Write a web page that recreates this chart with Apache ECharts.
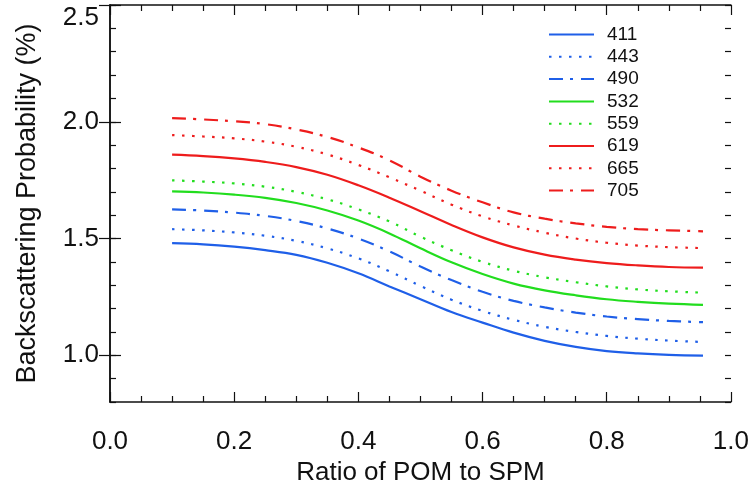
<!DOCTYPE html>
<html>
<head>
<meta charset="utf-8">
<script src="https://cdn.jsdelivr.net/npm/echarts@6/dist/echarts.min.js"></script>
<style>
  html, body { margin: 0; padding: 0; background: #fff; }
  #chart { width: 752px; height: 494px; }
</style>
</head>
<body>
<div id="chart"></div>
<script>
// ratio of POM to SPM
const ratio = [0.1, 0.15, 0.2, 0.25, 0.3, 0.35, 0.4, 0.45, 0.5, 0.55, 0.6, 0.65, 0.7, 0.75, 0.8, 0.85, 0.9, 0.955];

const bp411 = [1.480, 1.475, 1.465, 1.450, 1.430, 1.396, 1.351, 1.295, 1.240, 1.185, 1.140, 1.097, 1.062, 1.036, 1.018, 1.008, 1.002, 0.999];
const bp443 = [1.540, 1.535, 1.526, 1.512, 1.490, 1.458, 1.415, 1.360, 1.297, 1.238, 1.190, 1.152, 1.122, 1.100, 1.083, 1.071, 1.063, 1.057];
const bp490 = [1.625, 1.620, 1.611, 1.597, 1.575, 1.543, 1.500, 1.445, 1.380, 1.322, 1.272, 1.233, 1.205, 1.183, 1.166, 1.155, 1.147, 1.142];
const bp532 = [1.702, 1.697, 1.688, 1.674, 1.652, 1.620, 1.577, 1.522, 1.458, 1.398, 1.348, 1.307, 1.278, 1.257, 1.240, 1.229, 1.221, 1.216];
const bp559 = [1.749, 1.744, 1.736, 1.722, 1.700, 1.668, 1.625, 1.573, 1.508, 1.450, 1.400, 1.362, 1.334, 1.313, 1.295, 1.282, 1.274, 1.268];
const bp619 = [1.859, 1.853, 1.843, 1.828, 1.806, 1.773, 1.728, 1.675, 1.617, 1.558, 1.505, 1.462, 1.431, 1.410, 1.395, 1.385, 1.378, 1.375];
const bp665 = [1.943, 1.937, 1.929, 1.915, 1.893, 1.860, 1.815, 1.762, 1.705, 1.645, 1.595, 1.556, 1.525, 1.500, 1.482, 1.470, 1.463, 1.459];
const bp705 = [2.016, 2.010, 2.002, 1.990, 1.967, 1.935, 1.890, 1.835, 1.765, 1.705, 1.655, 1.612, 1.585, 1.565, 1.550, 1.540, 1.535, 1.531];

const yMajorTicks = [1.0, 1.5, 2.0, 2.5];

const BLUE = '#1f5fe8';
const GREEN = '#22dd1e';
const RED = '#ee1c1c';
const SOLID = 'solid';
const DOT = [2.5, 7.5];
const DASHDOT = [14, 7, 3, 8];

const font = 'Liberation Sans, Helvetica, Arial, sans-serif';
const axisColor = '#111';

function pairs(ys) {
  return ratio.map((x, i) => [x, ys[i]]);
}

function mkSeries(name, ys, color, type) {
  return {
    name: name,
    type: 'line',
    xAxisIndex: 0,
    yAxisIndex: 0,
    data: pairs(ys),
    smooth: 0.4,
    symbol: 'none',
    showSymbol: false,
    lineStyle: { color: color, width: 2.2, type: type },
    itemStyle: { color: color },
    animation: false
  };
}

const xAxisBase = {
  type: 'value', min: 0, max: 1, interval: 0.2,
  axisLine: { show: true, lineStyle: { color: axisColor, width: 1.5 } },
  axisTick: { show: true, inside: true, length: 10, lineStyle: { color: axisColor, width: 1.2 } },
  minorTick: { show: true, splitNumber: 4, length: 6, lineStyle: { color: axisColor, width: 1.2 } },
  splitLine: { show: false }
};

const yMajorBase = {
  type: 'value', min: 0.8, max: 2.5,
  axisLine: { show: true, lineStyle: { color: axisColor, width: 1.5 } },
  axisTick: { show: true, inside: true, length: 11, customValues: yMajorTicks, lineStyle: { color: axisColor, width: 1.2 } },
  splitLine: { show: false }
};

const yMinorBase = {
  type: 'value', min: 0.8, max: 2.5, interval: 0.1, gridIndex: 1,
  axisLine: { show: false },
  axisTick: { show: true, inside: true, length: 6, lineStyle: { color: axisColor, width: 1.2 } },
  axisLabel: { show: false },
  splitLine: { show: false }
};

const chart = echarts.init(document.getElementById('chart'));
chart.setOption({
  backgroundColor: '#fff',
  animation: false,
  textStyle: { fontFamily: font },
  grid: [
    { left: 110, right: 21, top: 5, bottom: 92 },
    { left: 110, right: 21, top: 5, bottom: 92 }
  ],
  legend: {
    orient: 'vertical',
    left: 543,
    top: 20,
    itemWidth: 45,
    itemHeight: 14,
    itemGap: 3.3,
    itemStyle: { opacity: 0 },
    textStyle: { fontSize: 19, color: '#111', fontFamily: font, padding: [0, 0, 0, 8] },
    data: ['411', '443', '490', '532', '559', '619', '665', '705']
  },
  xAxis: [
    Object.assign({}, xAxisBase, {
      position: 'bottom',
      name: 'Ratio of POM to SPM',
      nameLocation: 'middle',
      nameGap: 55,
      nameTextStyle: { fontSize: 26, color: '#111', fontFamily: font },
      axisLabel: { show: true, margin: 27, fontSize: 26, color: '#111', fontFamily: font,
        formatter: v => v.toFixed(1) }
    }),
    Object.assign({}, xAxisBase, { position: 'top', axisLabel: { show: false } }),
    { type: 'value', min: 0, max: 1, gridIndex: 1, show: false }
  ],
  yAxis: [
    Object.assign({}, yMajorBase, {
      position: 'left',
      name: 'Backscattering Probability (%)',
      nameLocation: 'middle',
      nameGap: 69,
      nameTextStyle: { fontSize: 27, color: '#111', fontFamily: font },
      axisLabel: { show: true, margin: 11, fontSize: 26, color: '#111', fontFamily: font,
        verticalAlignMaxLabel: 'top',
        customValues: yMajorTicks, formatter: v => v.toFixed(1) }
    }),
    Object.assign({}, yMajorBase, { position: 'right', axisLabel: { show: false } }),
    Object.assign({}, yMinorBase, { position: 'left' }),
    Object.assign({}, yMinorBase, { position: 'right' })
  ],
  series: [
    mkSeries('411', bp411, BLUE, SOLID),
    mkSeries('443', bp443, BLUE, DOT),
    mkSeries('490', bp490, BLUE, DASHDOT),
    mkSeries('532', bp532, GREEN, SOLID),
    mkSeries('559', bp559, GREEN, DOT),
    mkSeries('619', bp619, RED, SOLID),
    mkSeries('665', bp665, RED, DOT),
    mkSeries('705', bp705, RED, DASHDOT)
  ]
});
</script>
</body>
</html>
